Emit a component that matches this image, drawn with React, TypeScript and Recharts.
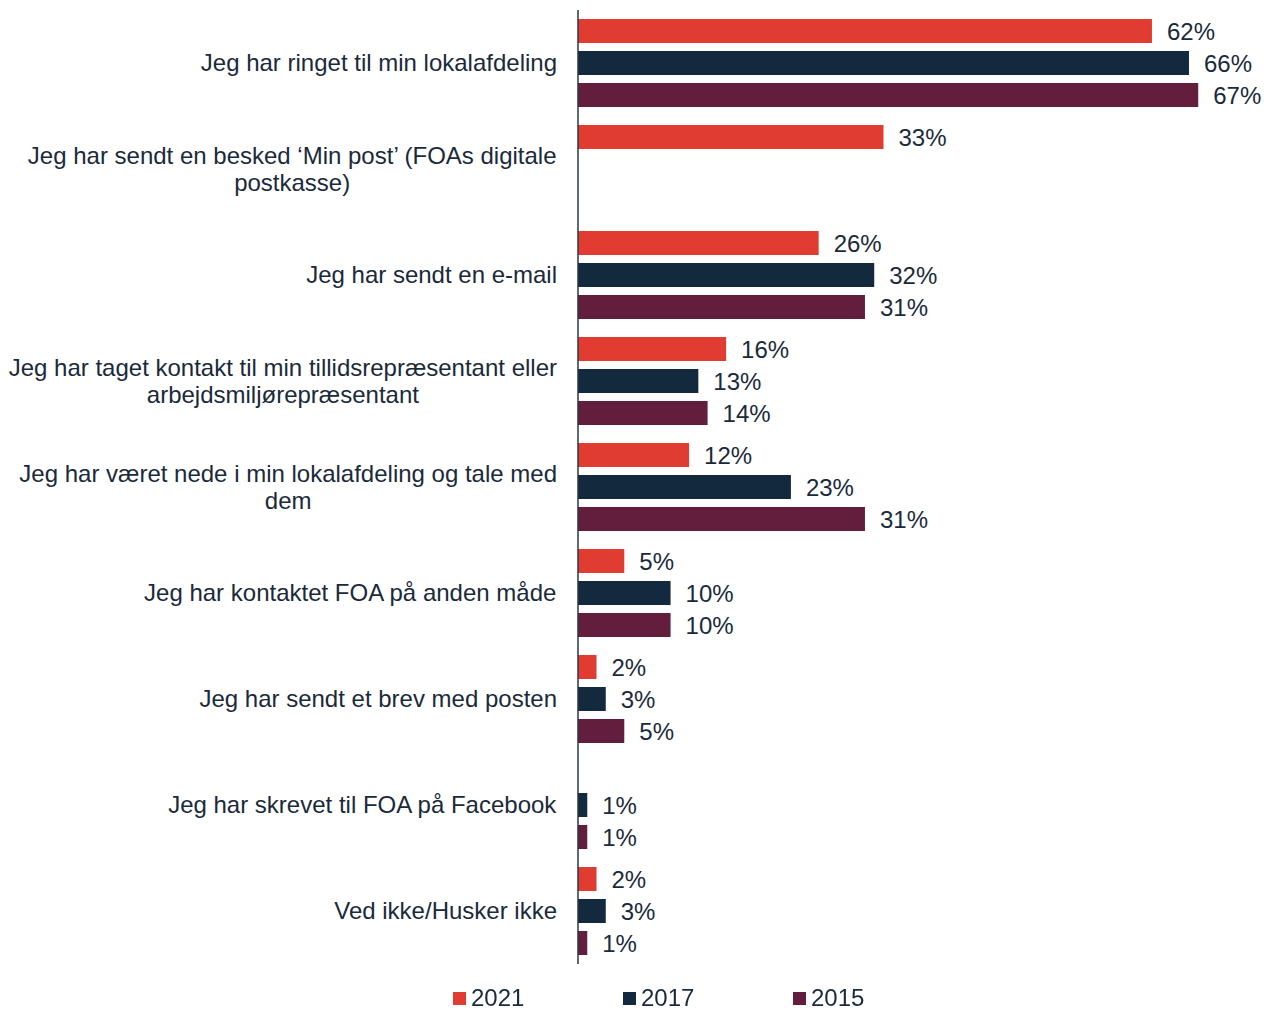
import React from 'react';
import { BarChart, Bar, XAxis, YAxis, LabelList } from 'recharts';

const categories = [
  'Jeg har ringet til min lokalafdeling',
  'Jeg har sendt en besked ‘Min post’ (FOAs digitale postkasse)',
  'Jeg har sendt en e-mail',
  'Jeg har taget kontakt til min tillidsrepræsentant eller arbejdsmiljørepræsentant',
  'Jeg har været nede i min lokalafdeling og tale med dem',
  'Jeg har kontaktet FOA på anden måde',
  'Jeg har sendt et brev med posten',
  'Jeg har skrevet til FOA på Facebook',
  'Ved ikke/Husker ikke',
];

const categoryLines = [
  ['Jeg har ringet til min lokalafdeling'],
  ['Jeg har sendt en besked ‘Min post’ (FOAs digitale', 'postkasse)'],
  ['Jeg har sendt en e-mail'],
  ['Jeg har taget kontakt til min tillidsrepræsentant eller', 'arbejdsmiljørepræsentant'],
  ['Jeg har været nede i min lokalafdeling og tale med', 'dem'],
  ['Jeg har kontaktet FOA på anden måde'],
  ['Jeg har sendt et brev med posten'],
  ['Jeg har skrevet til FOA på Facebook'],
  ['Ved ikke/Husker ikke'],
];

const seriesNames = ['2021', '2017', '2015'];
const values2021 = [62, 33, 26, 16, 12, 5, 2, null, 2];
const values2017 = [66, null, 32, 13, 23, 10, 3, 1, 3];
const values2015 = [67, null, 31, 14, 31, 10, 5, 1, 1];
const seriesColors = ['#E03C31', '#13293D', '#621E3C'];

const FONT = "'Liberation Sans', Arial, sans-serif";
const TEXT_COLOR = '#1B2A3A';
const FONT_SIZE = 24;
const LINE_HEIGHT = 27;

const data = categories.map((c, i) => ({
  category: c,
  v2021: values2021[i],
  v2017: values2017[i],
  v2015: values2015[i],
}));

const seriesKeys = ['v2021', 'v2017', 'v2015'];

let measureCtx: CanvasRenderingContext2D | null = null;
function measure(text: string): number {
  if (!measureCtx) {
    const c = document.createElement('canvas');
    measureCtx = c.getContext('2d');
  }
  if (!measureCtx) return text.length * 11;
  measureCtx.font = `${FONT_SIZE}px ${FONT}`;
  return measureCtx.measureText(text).width;
}

const CategoryTick = (props: any) => {
  const { x, y, payload } = props;
  const idx = categories.indexOf(payload.value);
  const lines = idx >= 0 ? categoryLines[idx] : [String(payload.value)];
  const maxW = Math.max(...lines.map(measure));
  const cx = x - maxW / 2;
  const startY = y - ((lines.length - 1) * LINE_HEIGHT) / 2;
  return (
    <g>
      {lines.map((ln, i) => (
        <text
          key={i}
          x={cx}
          y={startY + i * LINE_HEIGHT}
          dy="0.35em"
          textAnchor="middle"
          fill={TEXT_COLOR}
          fontSize={FONT_SIZE}
          fontFamily={FONT}
        >
          {ln}
        </text>
      ))}
    </g>
  );
};

const fmt = (v: any) => (v === null || v === undefined ? '' : `${v}%`);

export default function App() {
  return (
    <div style={{ position: 'fixed', left: 0, top: 0, width: 1271, height: 1009, background: '#fff' }}>
      <BarChart
        layout="vertical"
        width={1271}
        height={1009}
        data={data}
        margin={{ top: 10, right: 45, bottom: 45, left: 0 }}
        barSize={24}
        barGap={8}
        style={{ fontFamily: FONT }}
      >
        <XAxis type="number" domain={[0, 70]} hide />
        <YAxis
          type="category"
          dataKey="category"
          width={578}
          tickSize={0}
          tickMargin={21}
          tickLine={false}
          interval={0}
          axisLine={{ stroke: '#2B3642', strokeWidth: 1.5 }}
          tick={<CategoryTick />}
        />
        {seriesKeys.map((k, i) => (
          <Bar key={k} dataKey={k} name={seriesNames[i]} fill={seriesColors[i]} isAnimationActive={false}>
            <LabelList
              dataKey={k}
              position="right"
              offset={15}
              formatter={fmt}
              fill={TEXT_COLOR}
              fontSize={FONT_SIZE}
              fontFamily={FONT}
            />
          </Bar>
        ))}
      </BarChart>
      <div
        style={{
          position: 'absolute',
          left: 453,
          top: 984,
          display: 'flex',
          fontFamily: FONT,
          fontSize: FONT_SIZE,
          color: TEXT_COLOR,
          lineHeight: '28px',
        }}
      >
        {seriesNames.map((n, i) => (
          <div key={n} style={{ width: 170, display: 'flex', alignItems: 'center' }}>
            <span
              style={{
                display: 'inline-block',
                width: 13,
                height: 13,
                background: seriesColors[i],
                marginRight: 5,
              }}
            />
            <span>{n}</span>
          </div>
        ))}
      </div>
    </div>
  );
}
